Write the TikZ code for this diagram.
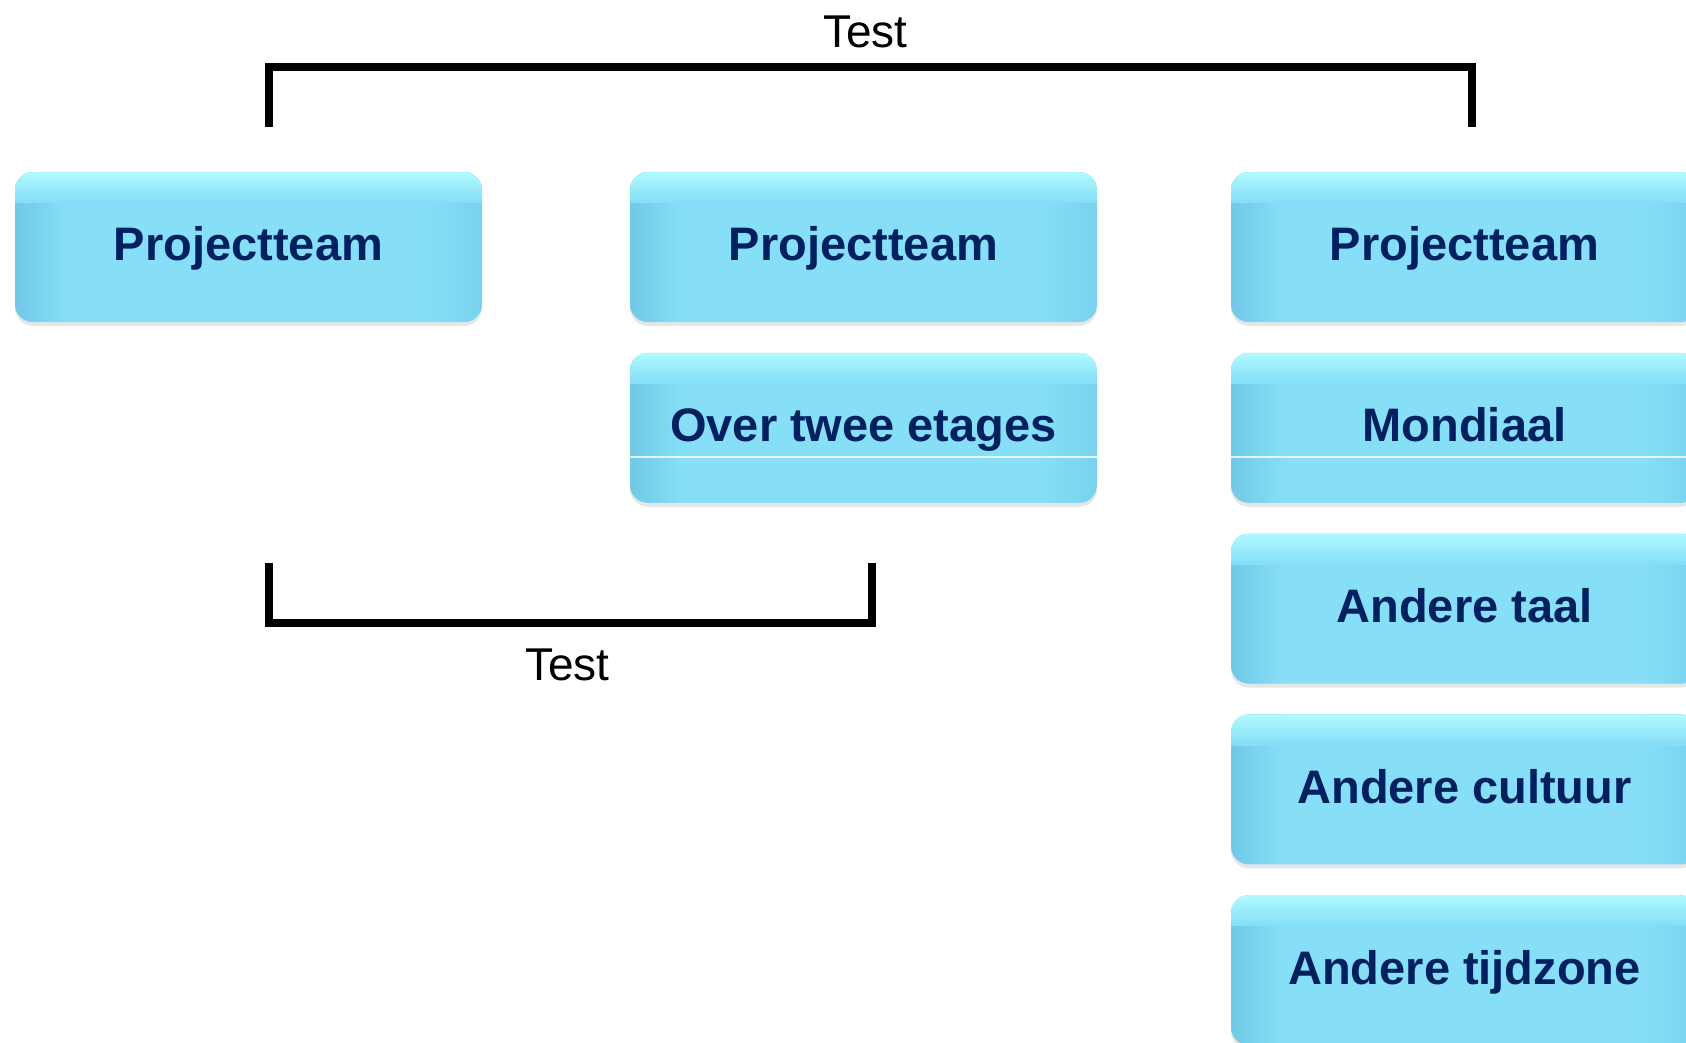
\documentclass[tikz,border=0pt]{standalone}
\usepackage{fontspec}
\setmainfont{Liberation Sans}
\usepackage{tikz}
\usetikzlibrary{positioning,shadows}

\definecolor{boxmain}{RGB}{134,222,247}
\definecolor{boxtop}{RGB}{176,250,255}
\definecolor{boxedge}{RGB}{112,201,230}
\definecolor{boxedgeright}{RGB}{120,210,238}
\definecolor{boxtext}{RGB}{0,32,96}

\begin{document}
\begin{tikzpicture}[x = 0.5pt, y = -0.5pt,
		teambox/.style = {rounded corners = 9pt, minimum width = 233.5pt, minimum height = 75pt, inner sep = 0pt, fill = boxmain,
			font = \fontsize{23.5}{28}\selectfont\bfseries, text = boxtext, text height = 17pt, text depth = 3pt,
			drop shadow = {shadow xshift = 0pt, shadow yshift = -2pt, opacity = 0.2},
			path picture = {
				\foreach \i [evaluate = \i as \pct using int(100 - 8*\i)] in {0,...,12} {
					\fill[sharp corners, boxedge!\pct!boxmain] ([xshift = {\i*2pt}]path picture bounding box.north west) rectangle ([xshift = {\i*2pt + 2.2pt}]path picture bounding box.south west);
					\fill[sharp corners, boxedgeright!\pct!boxmain] ([xshift = {-\i*2pt}]path picture bounding box.north east) rectangle ([xshift = {-\i*2pt - 2.2pt}]path picture bounding box.south east);
				}
				\foreach \j [evaluate = \j as \pct using int(100 - 10*\j)] in {0,...,10} {
					\fill[sharp corners, boxtop!\pct!boxmain] ([yshift = {-\j*1.4pt}]path picture bounding box.north west) rectangle ([yshift = {-\j*1.4pt - 1.6pt}]path picture bounding box.north east);
				}
			}},
		bracket/.style = {line width = 4pt, line join = miter},
		testlabel/.style = {font = \fontsize{23}{27}\selectfont, anchor = base, inner sep = 0pt}]
			\useasboundingbox (0, 0) rectangle (1686, 1043);
			\clip (0, 0) rectangle (1686, 1043);
			\node[teambox] (team1) at (248.5, 247) {Projectteam};
			\node[teambox] (team2) at (863.5, 247) {Projectteam};
				\node[teambox, below = 15pt of team2] (etages) {Over twee etages};
			\node[teambox] (team3) at (1464.5, 247) {Projectteam};
				\node[teambox, below = 15pt of team3] (mondiaal) {Mondiaal};
				\node[teambox, below = 15pt of mondiaal] (taal) {Andere taal};
				\node[teambox, below = 15pt of taal] (cultuur) {Andere cultuur};
				\node[teambox, below = 15pt of cultuur] (tijdzone) {Andere tijdzone};
			\draw[white, line width = 0.6pt, opacity = 0.8] (630, 457) -- (1686, 457);
			\coordinate (topl) at (269, 127);
			\coordinate (topr) at (1472, 127);
			\draw[bracket] (topl) -- ++(0, -59.5) -| (topr);
				\node[testlabel] (toptest) at (865.5, 48) {Test};
			\coordinate (botl) at (269, 563);
			\coordinate (botr) at (872, 563);
			\draw[bracket] (botl) -- ++(0, 60) -| (botr);
				\node[testlabel] (bottest) at (567.5, 680) {Test};
		\end{tikzpicture}
\end{document}
